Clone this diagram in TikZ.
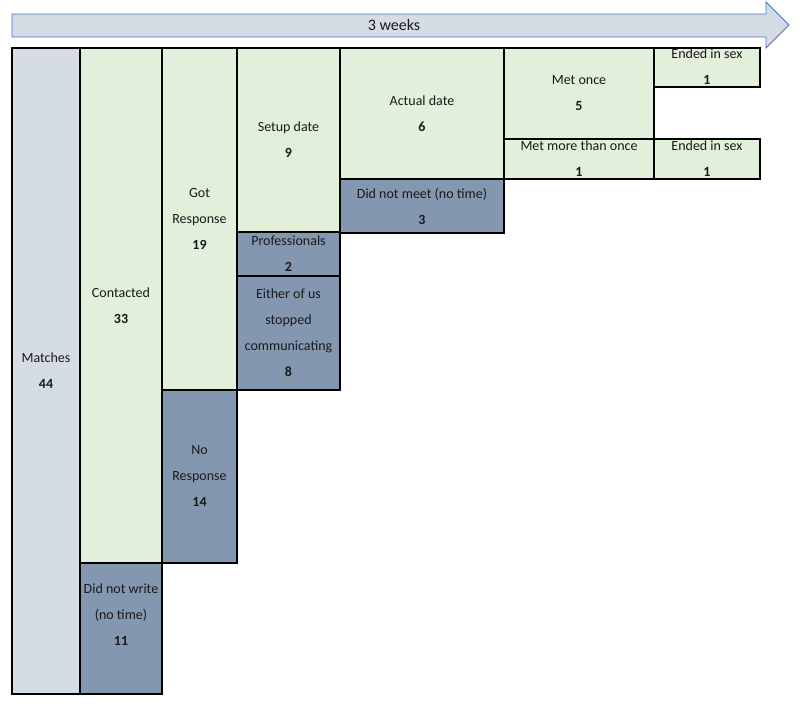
\documentclass[tikz,border=0pt]{standalone}
\usepackage{fontspec}
\setmainfont{Carlito}
\definecolor{matchfill}{HTML}{D6DCE5}
\definecolor{goodfill}{HTML}{E2EFDA}
\definecolor{badfill}{HTML}{8497B0}
\definecolor{arrowline}{HTML}{4472C4}
\definecolor{txtcol}{HTML}{1A1A1A}
\tikzset{
  cell/.style={draw=black, line width=1.6pt, inner sep=0pt, rectangle},
  txt/.style={inner sep=0pt, align=center, text=txtcol, font=\fontsize{14}{26}\selectfont},
}
\begin{document}
\begin{tikzpicture}[x=1pt,y=-1pt]
\useasboundingbox (0,0) rectangle (800,706);
% time arrow
\draw[fill=matchfill, draw=arrowline, line width=0.9pt, line join=miter]
  (12,14) -- (766,14) -- (766,2) -- (789,25) -- (766,48) -- (766,37) -- (12,37) -- cycle;
\node[txt, font=\fontsize{16}{19}\selectfont] (weeks) at (394,25) {3 weeks};
% column 1
\node[cell, fill=matchfill, minimum width=68pt, minimum height=646pt] (matches) at (46,371) {};
\node[txt] (matches-t) at (matches) {Matches\\\textbf{44}};
% column 2
\node[cell, fill=goodfill, minimum width=82pt, minimum height=515pt] (contacted) at (121,305.5) {};
\node[txt] (contacted-t) at (contacted) {Contacted\\\textbf{33}};
\node[cell, fill=badfill, minimum width=82pt, minimum height=131pt] (nowrite) at (121,628.5) {};
\node[txt] (nowrite-t) at (121,615) {Did not write\\(no time)\\\textbf{11}};
% column 3
\node[cell, fill=goodfill, minimum width=75pt, minimum height=342pt] (gotresp) at (199.5,219) {};
\node[txt] (gotresp-t) at (gotresp) {Got\\Response\\\textbf{19}};
\node[cell, fill=badfill, minimum width=75pt, minimum height=173pt] (noresp) at (199.5,476.5) {};
\node[txt] (noresp-t) at (noresp) {No\\Response\\\textbf{14}};
% column 4
\node[cell, fill=goodfill, minimum width=103pt, minimum height=184pt] (setup) at (288.5,140) {};
\node[txt] (setup-t) at (setup) {Setup date\\\textbf{9}};
\node[cell, fill=badfill, minimum width=103pt, minimum height=44pt] (prof) at (288.5,254) {};
\node[txt] (prof-t) at (prof) {Professionals\\\textbf{2}};
\node[cell, fill=badfill, minimum width=103pt, minimum height=114pt] (stopped) at (288.5,333) {};
\node[txt] (stopped-t) at (stopped) {Either of us\\stopped\\communicating\\\textbf{8}};
% column 5
\node[cell, fill=goodfill, minimum width=164pt, minimum height=131pt] (actual) at (422,113.5) {};
\node[txt] (actual-t) at (actual) {Actual date\\\textbf{6}};
\node[cell, fill=badfill, minimum width=164pt, minimum height=54pt] (nomeet) at (422,206) {};
\node[txt] (nomeet-t) at (nomeet) {Did not meet (no time)\\\textbf{3}};
% column 6
\node[cell, fill=goodfill, minimum width=150pt, minimum height=91pt] (once) at (579,93.5) {};
\node[txt] (once-t) at (once) {Met once\\\textbf{5}};
\node[cell, fill=goodfill, minimum width=150pt, minimum height=40pt] (more) at (579,159) {};
\node[txt] (more-t) at (579,158.5) {Met more than once\\\textbf{1}};
% column 7
\node[cell, fill=goodfill, minimum width=106pt, minimum height=39pt] (sex1) at (707,67.5) {};
\node[txt] (sex1-t) at (707,66.5) {Ended in sex\\\textbf{1}};
\node[cell, fill=goodfill, minimum width=106pt, minimum height=40pt] (sex2) at (707,159) {};
\node[txt] (sex2-t) at (707,158.5) {Ended in sex\\\textbf{1}};
\end{tikzpicture}
\end{document}
